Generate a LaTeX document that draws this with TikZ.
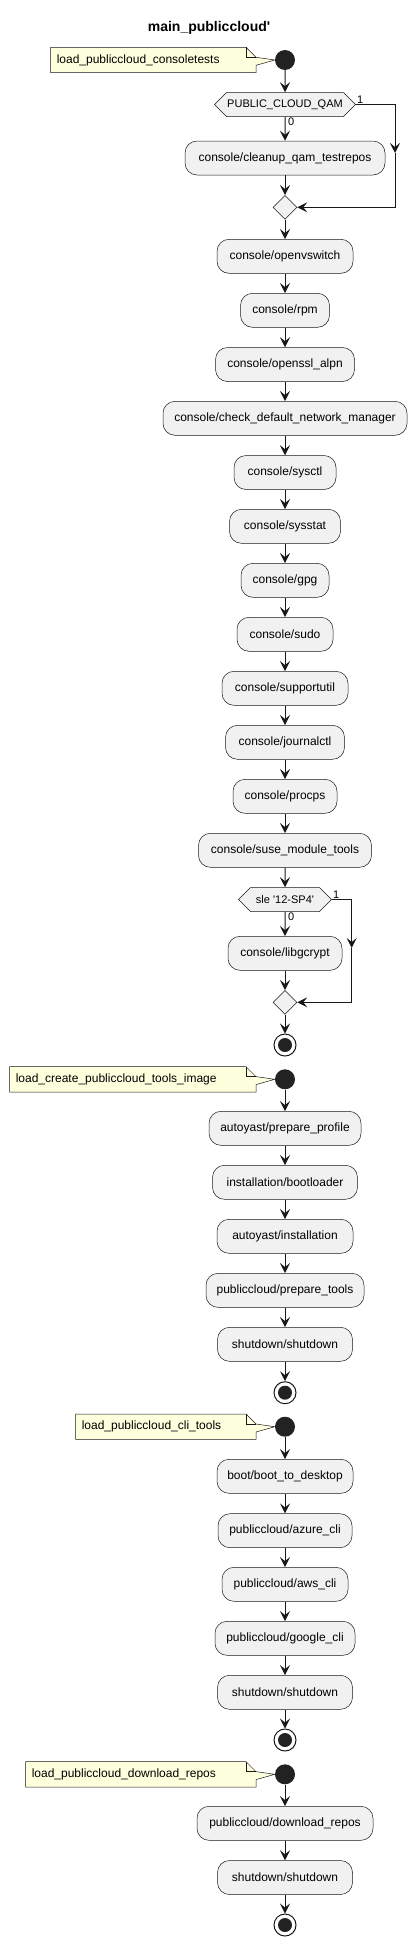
\documentclass[tikz,border=0pt]{standalone}
\usepackage{fontspec}
\setmainfont{Liberation Sans}
\usetikzlibrary{arrows.meta,shapes.geometric,shapes.symbols,backgrounds}
\definecolor{actfill}{HTML}{F1F1F1}
\definecolor{linecol}{HTML}{181818}
\definecolor{notefill}{HTML}{FEFFDD}
\definecolor{dotcol}{HTML}{222222}

\begin{document}
\begin{tikzpicture}[x=1pt,y=-1pt,
    act/.style={draw=linecol,line width=0.5pt,fill=actfill,rounded corners=12pt,
        minimum height=34pt,inner xsep=2pt,font=\fontsize{12}{14}\selectfont},
    test/.style={signal,signal to=west and east,signal pointer angle=90,draw=linecol,
        line width=0.5pt,fill=actfill,minimum height=24pt,inner sep=0pt,
        font=\fontsize{11}{13}\selectfont},
    merge/.style={diamond,draw=linecol,line width=0.5pt,fill=actfill,minimum size=24pt,inner sep=0pt},
    start/.style={circle,fill=dotcol,minimum size=20pt,inner sep=0pt},
    stop/.style={circle,draw=linecol,line width=1pt,fill=white,minimum size=22pt,inner sep=0pt,
        path picture={\fill[dotcol] (path picture bounding box.center) circle (7pt);}},
    note/.style={anchor=east,align=left,minimum height=25pt,inner xsep=6pt,
        font=\fontsize{12}{14}\selectfont},
    flow/.style={draw=linecol,line width=1pt,-{Stealth[length=10pt,width=10pt,inset=4pt]}},
    lbl/.style={font=\fontsize{11}{13}\selectfont,inner sep=1pt}]
    \useasboundingbox (0,0) rectangle (419,1946);
    \node[font=\bfseries\fontsize{14}{16}\selectfont] (title) at (209,28) {main\_publiccloud\textquotesingle};

    \node[start] (s1) at (285,60) {};
    \node[note,text width=193pt] (n1) at (256,60) {load\_publiccloud\_consoletests};
    \node[test,minimum width=141pt] (q1) at (285,104.5) {PUBLIC\_CLOUD\_QAM};
    \node[lbl,anchor=south west] (q1yes) at (q1.east) {1};
    \node[lbl,anchor=north west,xshift=2pt] (q1no) at (q1.south) {0};
    \node[act,minimum width=200pt] (qam) at (285,158) {console/cleanup\_qam\_testrepos};
    \node[merge] (m1) at (285,207.3) {};
    \coordinate (q1r) at (395,104.5);
    \coordinate (q1d) at (395,153);

    \node[act,minimum width=136pt] (ovs) at (285,256.3) {console/openvswitch};
    \node[act,minimum width=89pt] (rpm) at (285,310.3) {console/rpm};
    \node[act,minimum width=139pt] (ssl) at (285,364.5) {console/openssl\_alpn};
    \node[act,minimum width=244pt] (nm) at (285,418.3) {console/check\_default\_network\_manager};
    \node[act,minimum width=102pt] (ctl) at (285,472.5) {console/sysctl};
    \node[act,minimum width=111pt] (stat) at (285,526.3) {console/sysstat};
    \node[act,minimum width=88pt] (gpg) at (285,580.3) {console/gpg};
    \node[act,minimum width=96pt] (sudo) at (285,634.3) {console/sudo};
    \node[act,minimum width=126pt] (sup) at (285,688.3) {console/supportutil};
    \node[act,minimum width=119pt] (jrn) at (285,742.3) {console/journalctl};
    \node[act,minimum width=104pt] (proc) at (285,796.3) {console/procps};
    \node[act,minimum width=173pt] (smt) at (285,850.3) {console/suse\_module\_tools};

    \node[test,minimum width=93pt] (q2) at (285,899.5) {sle \textquotesingle 12-SP4\textquotesingle};
    \node[lbl,anchor=south west] (q2yes) at (q2.east) {1};
    \node[lbl,anchor=north west,xshift=2pt] (q2no) at (q2.south) {0};
    \node[act,minimum width=114pt] (gcr) at (285,953.3) {console/libgcrypt};
    \node[merge] (m2) at (285,1002.3) {};
    \coordinate (q2r) at (351.7,899.5);
    \coordinate (q2d) at (351.7,948);
    \node[stop] (e1) at (285,1045) {};

    \node[start] (s2) at (285,1079.3) {};
    \node[note,text width=234pt] (n2) at (256,1079.3) {load\_create\_publiccloud\_tools\_image};
    \node[act,minimum width=152pt] (prof) at (285,1128.3) {autoyast/prepare\_profile};
    \node[act,minimum width=145pt] (boot) at (285,1182.3) {installation/bootloader};
    \node[act,minimum width=136pt] (inst) at (285,1236.3) {autoyast/installation};
    \node[act,minimum width=158pt] (tools) at (285,1290.3) {publiccloud/prepare\_tools};
    \node[act,minimum width=135pt] (shut1) at (285,1344.3) {shutdown/shutdown};
    \node[stop] (e2) at (285,1392.7) {};

    \node[start] (s3) at (285,1426.7) {};
    \node[note,text width=168pt] (n3) at (256,1426.7) {load\_publiccloud\_cli\_tools};
    \node[act,minimum width=136pt] (desk) at (285,1476.3) {boot/boot\_to\_desktop};
    \node[act,minimum width=134pt] (az) at (285,1530.7) {publiccloud/azure\_cli};
    \node[act,minimum width=126pt] (aws) at (285,1584.3) {publiccloud/aws\_cli};
    \node[act,minimum width=140pt] (gcp) at (285,1638.3) {publiccloud/google\_cli};
    \node[act,minimum width=135pt] (shut2) at (285,1692.3) {shutdown/shutdown};
    \node[stop] (e3) at (285,1740) {};

    \node[start] (s4) at (285,1774.3) {};
    \node[note,text width=218pt] (n4) at (256,1774.3) {load\_publiccloud\_download\_repos};
    \node[act,minimum width=176pt] (repo) at (285,1823.3) {publiccloud/download\_repos};
    \node[act,minimum width=135pt] (shut3) at (285,1877.5) {shutdown/shutdown};
    \node[stop] (e4) at (285,1925) {};

    \begin{scope}[on background layer]
        \foreach \n/\s in {n1/s1,n2/s2,n3/s3,n4/s4} {
            \draw[draw=linecol,line width=0.5pt,fill=notefill] (\n.north west) -- ([xshift=-10pt]\n.north east)
                -- ([yshift=-10pt]\n.north east) -- (\s.west) -- ([yshift=-18pt]\n.north east)
                -- (\n.south east) -- (\n.south west) -- cycle;
            \draw[draw=linecol,line width=0.5pt] ([xshift=-10pt]\n.north east) -- ++(0pt,-10pt) -- ++(10pt,0pt);
        }
    \end{scope}

    \draw[flow] (q1.east) -- (q1r) -- (q1d);
    \draw[flow] (q1d) |- (m1.east);
    \draw[flow] (q2.east) -- (q2r) -- (q2d);
    \draw[flow] (q2d) |- (m2.east);
    \foreach \a/\b in {s1/q1,q1/qam,qam/m1,m1/ovs,ovs/rpm,rpm/ssl,ssl/nm,nm/ctl,ctl/stat,stat/gpg,
        gpg/sudo,sudo/sup,sup/jrn,jrn/proc,proc/smt,smt/q2,q2/gcr,gcr/m2,m2/e1,
        s2/prof,prof/boot,boot/inst,inst/tools,tools/shut1,shut1/e2,
        s3/desk,desk/az,az/aws,aws/gcp,gcp/shut2,shut2/e3,
        s4/repo,repo/shut3,shut3/e4}
        \draw[flow] (\a) -- (\b);
\end{tikzpicture}
\end{document}
